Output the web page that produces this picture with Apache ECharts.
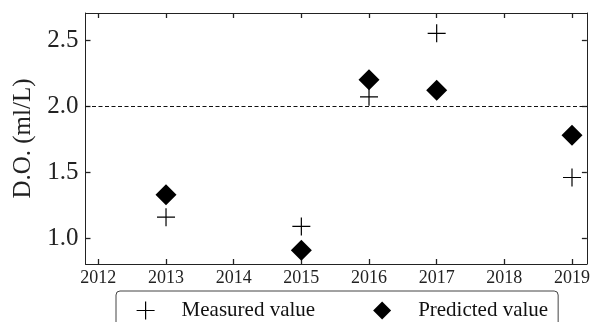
<!DOCTYPE html>
<html>
<head>
<meta charset="utf-8">
<script src="https://cdn.jsdelivr.net/npm/echarts@6/dist/echarts.min.js"></script>
<style>html,body{margin:0;padding:0;background:#fff}#c{width:593px;height:322px}</style>
</head>
<body>
<div id="c"></div>
<script>
const years = [2013, 2015, 2016, 2017, 2019];
const measured = [1.16, 1.09, 2.07, 2.55, 1.46];
const predicted = [1.33, 0.91, 2.20, 2.12, 1.78];
const xTicks = [2012, 2013, 2014, 2015, 2016, 2017, 2018, 2019];
const yTicks = [1.0, 1.5, 2.0, 2.5];
const threshold = 2.0;
const seriesNames = ['Measured value', 'Predicted value'];
const yName = 'D.O. (ml/L)';

const FONT = 'Liberation Serif';
const plusPath = 'path://M0,5L10,5M5,0L5,10';
const xMin = 2011.81, xMax = 2019.22, yMin = 0.806, yMax = 2.704;

const chart = echarts.init(document.getElementById('c'), null, {renderer: 'canvas'});
const axLine = {show: true, lineStyle: {color: '#222', width: 1}};
const tick = (vals) => ({show: true, inside: true, length: 5, customValues: vals, lineStyle: {color: '#222', width: 1.3}});

chart.setOption({
  animation: false,
  backgroundColor: '#fff',
  grid: {left: 85.5, right: 2.5, top: 13, bottom: 58},
  xAxis: [
    {type: 'value', min: xMin, max: xMax, position: 'bottom', axisLine: axLine,
     axisTick: tick(xTicks), splitLine: {show: false},
     axisLabel: {customValues: xTicks, formatter: v => String(Math.round(v)), fontFamily: FONT, fontSize: 18, color: '#222', margin: 5}},
    {type: 'value', min: xMin, max: xMax, position: 'top', axisLine: axLine,
     axisTick: tick(xTicks), splitLine: {show: false}, axisLabel: {show: false}}
  ],
  yAxis: [
    {type: 'value', min: yMin, max: yMax, position: 'left', axisLine: axLine,
     axisTick: tick(yTicks), splitLine: {show: false},
     name: yName, nameLocation: 'middle', nameGap: 50,
     nameTextStyle: {fontFamily: FONT, fontSize: 25, color: '#222'},
     axisLabel: {customValues: yTicks, formatter: v => v.toFixed(1), fontFamily: FONT, fontSize: 25, color: '#222', margin: 7}},
    {type: 'value', min: yMin, max: yMax, position: 'right', axisLine: axLine,
     axisTick: tick(yTicks), splitLine: {show: false}, axisLabel: {show: false}}
  ],
  legend: {
    left: 116, top: 291,
    data: [
      {name: seriesNames[0], icon: plusPath, itemStyle: {color: 'transparent', borderColor: '#000', borderWidth: 1.2, opacity: 1}},
      {name: seriesNames[1], icon: 'diamond', itemStyle: {color: '#000', opacity: 1}}
    ],
    itemWidth: 18, itemHeight: 18, itemGap: 58,
    padding: [9, 10, 20, 20],
    borderColor: '#444', borderWidth: 1, borderRadius: 4,
    textStyle: {fontFamily: FONT, fontSize: 21, color: '#111', padding: [0, 0, 0, 22]}
  },
  series: [
    {name: seriesNames[0], type: 'scatter', symbol: plusPath, symbolSize: 18,
     itemStyle: {color: 'transparent', borderColor: '#000', borderWidth: 1.2, opacity: 1},
     data: years.map((y, i) => [y, measured[i]]), z: 3,
     markLine: {silent: true, symbol: 'none', label: {show: false},
       lineStyle: {color: '#111', type: [4, 2.5], width: 1},
       data: [{yAxis: threshold}]}},
    {name: seriesNames[1], type: 'scatter', symbol: 'diamond', symbolSize: 21,
     itemStyle: {color: '#000', opacity: 1}, data: years.map((y, i) => [y, predicted[i]]), z: 2}
  ]
});
</script>
</body>
</html>
